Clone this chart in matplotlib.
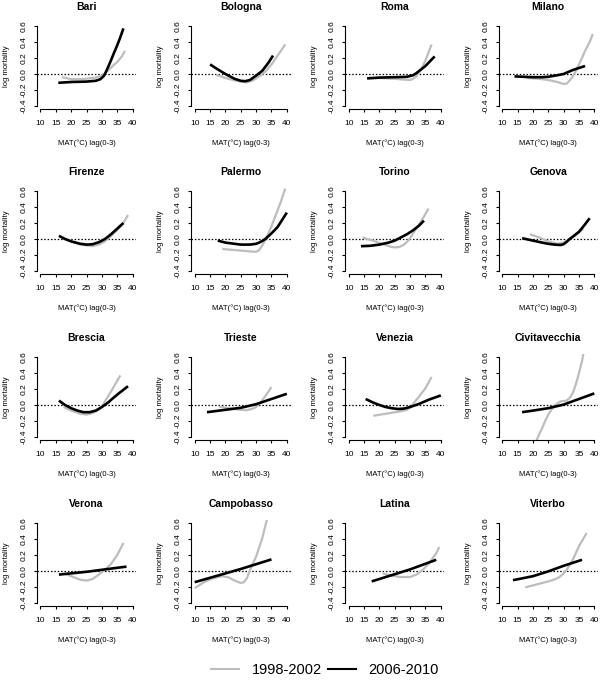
import matplotlib
matplotlib.use("Agg")
import matplotlib.pyplot as plt
from matplotlib.lines import Line2D

plt.rcParams['font.family'] = ['Liberation Sans', 'DejaVu Sans']

CITIES = ["Bari", "Bologna", "Roma", "Milano",
          "Firenze", "Palermo", "Torino", "Genova",
          "Brescia", "Trieste", "Venezia", "Civitavecchia",
          "Verona", "Campobasso", "Latina", "Viterbo"]
SERIES = ["1998-2002", "2006-2010"]
X_TICKS = [10, 15, 20, 25, 30, 35, 40]
Y_TICKS = [-0.4, -0.2, 0.0, 0.2, 0.4, 0.6]
Y_TICK_LABELS = ["-0.4", "-0.2", "0.0", "0.2", "0.4", "0.6"]

# (temperature, log mortality) pairs
bari_98 = [(17, -0.04), (20, -0.065), (23, -0.065), (26, -0.055), (28, -0.045), (30, -0.02), (31, 0.01),
           (32, 0.045), (33.5, 0.1), (35, 0.15), (36.5, 0.22), (37.5, 0.29)]
bari_06 = [(15.8, -0.11), (20, -0.1), (25, -0.095), (28, -0.085), (29.5, -0.065), (30.5, -0.03), (31, 0.0),
           (32, 0.085), (33, 0.175), (34, 0.27), (35, 0.36), (36, 0.46), (37, 0.57)]
bologna_98 = [(17, -0.01), (20, -0.05), (23, -0.08), (25, -0.095), (27, -0.105), (29, -0.08), (31, -0.03),
              (33, 0.03), (35, 0.12), (37, 0.23), (39.5, 0.37)]
bologna_06 = [(15, 0.12), (17, 0.07), (20, 0.0), (23, -0.06), (25, -0.085), (26.5, -0.09), (28, -0.075),
              (30, -0.02), (32, 0.04), (34, 0.14), (35.5, 0.23)]
roma_98 = [(16, -0.05), (20, -0.05), (25, -0.06), (28, -0.07), (30, -0.075), (31, -0.06), (32, -0.03),
           (33, 0.02), (34, 0.09), (35, 0.17), (36, 0.27), (37, 0.37)]
roma_06 = [(16, -0.055), (20, -0.045), (25, -0.04), (29, -0.035), (31, -0.015), (32, 0.01), (33, 0.04),
           (35, 0.1), (36.5, 0.16), (38, 0.22)]
milano_98 = [(18, -0.05), (22, -0.06), (25, -0.075), (28, -0.1), (30, -0.125), (31, -0.12), (32, -0.08),
             (33, -0.03), (34, 0.04), (35, 0.12), (36, 0.2), (37, 0.29), (38.5, 0.4), (39.5, 0.5)]
milano_06 = [(14, -0.03), (17, -0.035), (20, -0.04), (23, -0.04), (25, -0.035), (28, -0.015), (30, 0.0),
             (33, 0.05), (37, 0.1)]
firenze_98 = [(18, 0.0), (20, -0.03), (23, -0.07), (25, -0.08), (27, -0.09), (29, -0.07), (31, -0.03),
              (33, 0.04), (35, 0.11), (37, 0.2), (38.5, 0.3)]
firenze_06 = [(16, 0.04), (18, 0.0), (20, -0.03), (23, -0.06), (25, -0.07), (27, -0.065), (29, -0.04),
              (31, 0.0), (33, 0.06), (35, 0.13), (37, 0.2)]
palermo_98 = [(19, -0.125), (22, -0.135), (25, -0.145), (28, -0.155), (30, -0.16), (31, -0.14), (32, -0.08),
              (33, -0.01), (34, 0.07), (35, 0.16), (36, 0.26), (37, 0.36), (38, 0.46), (39.5, 0.63)]
palermo_06 = [(17.5, -0.02), (20, -0.045), (23, -0.06), (25, -0.07), (28, -0.07), (30, -0.06), (31, -0.045),
              (32, -0.025), (33, 0.0), (34, 0.035), (35, 0.07), (37, 0.15), (38.5, 0.24), (40, 0.33)]
torino_98 = [(14.5, 0.02), (16, 0.0), (18, -0.02), (20, -0.05), (22, -0.075), (24, -0.1), (25, -0.105),
             (26.5, -0.1), (28, -0.07), (29, -0.035), (30, 0.01), (31, 0.07), (32, 0.13), (33, 0.19),
             (34.5, 0.28), (36, 0.38)]
torino_06 = [(14, -0.09), (17, -0.085), (20, -0.07), (23, -0.045), (25, -0.02), (27, 0.02), (29, 0.06),
             (31, 0.11), (33, 0.17), (34.5, 0.23)]
genova_98 = [(19, 0.06), (22, 0.02), (25, -0.03), (28, -0.06), (30, -0.045), (31.5, -0.01), (33, 0.02),
             (35, 0.08), (36.5, 0.13)]
genova_06 = [(16.5, 0.01), (20, -0.02), (23, -0.045), (25, -0.06), (27, -0.07), (29, -0.075), (30, -0.065),
             (31, -0.035), (32, 0.0), (33, 0.03), (35, 0.09), (36.5, 0.16), (38.5, 0.26)]
brescia_98 = [(17.5, -0.025), (20, -0.07), (23, -0.11), (25, -0.12), (27, -0.1), (29, -0.06), (30, -0.02),
              (31, 0.045), (33, 0.17), (34.5, 0.27), (36, 0.37)]
brescia_06 = [(16, 0.055), (18, 0.0), (20, -0.04), (22, -0.07), (24, -0.09), (26, -0.09), (28, -0.07),
              (30, -0.025), (32, 0.03), (33, 0.065), (35, 0.13), (37, 0.19), (38.5, 0.235)]
trieste_98 = [(18, -0.02), (22, -0.045), (25, -0.06), (27, -0.065), (29, -0.045), (30, -0.025), (31, 0.01),
              (32, 0.06), (33, 0.11), (34, 0.165), (35, 0.225)]
trieste_06 = [(14, -0.09), (20, -0.06), (25, -0.035), (30, 0.01), (35, 0.075), (40, 0.14)]
venezia_98 = [(18, -0.135), (22, -0.11), (26, -0.085), (29, -0.06), (30, -0.03), (31, 0.015), (33, 0.11),
              (35, 0.21), (37, 0.35)]
venezia_06 = [(15.5, 0.075), (18, 0.03), (20, 0.0), (22, -0.025), (24, -0.04), (26, -0.05), (28, -0.045),
              (30, -0.025), (33, 0.015), (36, 0.065), (40, 0.12)]
civitavecchia_98 = [(20.5, -0.5), (21, -0.46), (22, -0.37), (23, -0.29), (24, -0.2), (25, -0.12), (26, -0.06),
                    (27, -0.015), (28, 0.02), (29, 0.045), (30, 0.05), (31, 0.055), (32, 0.09), (33, 0.15),
                    (34, 0.26), (35, 0.4), (36, 0.55), (36.5, 0.655)]
civitavecchia_06 = [(16.5, -0.09), (20, -0.07), (25, -0.04), (30, 0.005), (35, 0.075), (40, 0.145)]
verona_98 = [(18, -0.035), (20, -0.065), (23, -0.11), (25, -0.12), (27, -0.1), (29, -0.045), (31, 0.015),
             (33, 0.09), (35, 0.2), (37, 0.35)]
verona_06 = [(16, -0.045), (25, -0.01), (30, 0.015), (38, 0.055)]
campobasso_98 = [(10, -0.215), (13, -0.14), (16, -0.09), (19, -0.065), (21, -0.08), (23, -0.12), (25, -0.15),
                 (26, -0.14), (27, -0.09), (28, 0.01), (30, 0.18), (32, 0.41), (33.5, 0.64)]
campobasso_06 = [(10, -0.14), (15, -0.085), (20, -0.03), (25, 0.025), (30, 0.085), (35, 0.145)]
latina_98 = [(21, -0.03), (24, -0.06), (27, -0.075), (30, -0.075), (32, -0.045), (34, 0.01), (36, 0.09),
             (37, 0.14), (38.5, 0.22), (39.5, 0.3)]
latina_06 = [(17.5, -0.13), (25, -0.04), (30, 0.02), (38.5, 0.14)]
viterbo_98 = [(17.5, -0.205), (22, -0.16), (26, -0.12), (28, -0.09), (29, -0.065), (30, -0.03), (31, 0.015),
              (33, 0.14), (35, 0.31), (37.5, 0.475)]
viterbo_06 = [(13.5, -0.115), (20, -0.065), (25, -0.005), (30, 0.065), (36, 0.14)]

DATA_98 = [bari_98, bologna_98, roma_98, milano_98, firenze_98, palermo_98, torino_98, genova_98,
           brescia_98, trieste_98, venezia_98, civitavecchia_98, verona_98, campobasso_98, latina_98, viterbo_98]
DATA_06 = [bari_06, bologna_06, roma_06, milano_06, firenze_06, palermo_06, torino_06, genova_06,
           brescia_06, trieste_06, venezia_06, civitavecchia_06, verona_06, campobasso_06, latina_06, viterbo_06]

GRAY = "#bdbdbd"
W, H = 600, 686
fig = plt.figure(figsize=(W / 100, H / 100), dpi=100)

ax_w, ax_h = 99.5, 86.4
lefts = [36.8, 191.0, 345.0, 498.5]
tops = [22.8, 187.8, 353.8, 519.8]

for i, city in enumerate(CITIES):
    r, c = divmod(i, 4)
    left = lefts[c] / W
    bottom = 1 - (tops[r] + ax_h) / H
    ax = fig.add_axes([left, bottom, ax_w / W, ax_h / H])
    ax.set_xlim(8.8, 41.2)
    ax.set_ylim(-0.44, 0.64)
    for s in ("top", "right"):
        ax.spines[s].set_visible(False)
    ax.spines["left"].set_bounds(-0.4, 0.6)
    ax.spines["bottom"].set_bounds(10, 40)
    ax.spines["left"].set_linewidth(0.8)
    ax.spines["bottom"].set_linewidth(0.8)
    ax.set_xticks(X_TICKS)
    ax.set_yticks(Y_TICKS)
    ax.set_yticklabels(Y_TICK_LABELS, rotation=90, va="center")
    ax.tick_params(axis="both", direction="out", length=2.4, width=0.8, labelsize=6)
    ax.tick_params(axis="x", pad=5.5)
    ax.tick_params(axis="y", pad=4)
    ax.patch.set_alpha(0)

    ax.axhline(0, color="black", lw=0.9, ls=(0, (1.2, 1.5)), zorder=1)
    g = DATA_98[i]
    b = DATA_06[i]
    ax.plot([p[0] for p in g], [p[1] for p in g], color=GRAY, lw=1.6, zorder=2,
            solid_capstyle="butt")
    ax.plot([p[0] for p in b], [p[1] for p in b], color="black", lw=1.9, zorder=3,
            solid_capstyle="butt")

    ax.set_title(city, fontsize=7.5, fontweight="bold", pad=9.5)
    ax.set_xlabel("MAT(°C) lag(0-3)", fontsize=5.5, labelpad=9)
    ax.set_ylabel("log mortality", fontsize=5.5, labelpad=8)

handles = [Line2D([], [], color=GRAY, lw=1.5), Line2D([], [], color="black", lw=1.5)]
fig.legend(handles, SERIES, loc="lower center", bbox_to_anchor=(325 / W, -0.006), ncol=2,
           frameon=False, fontsize=10.5, handlelength=1.9, handletextpad=0.9, columnspacing=0.4)

fig.savefig("out.png", dpi=100)
